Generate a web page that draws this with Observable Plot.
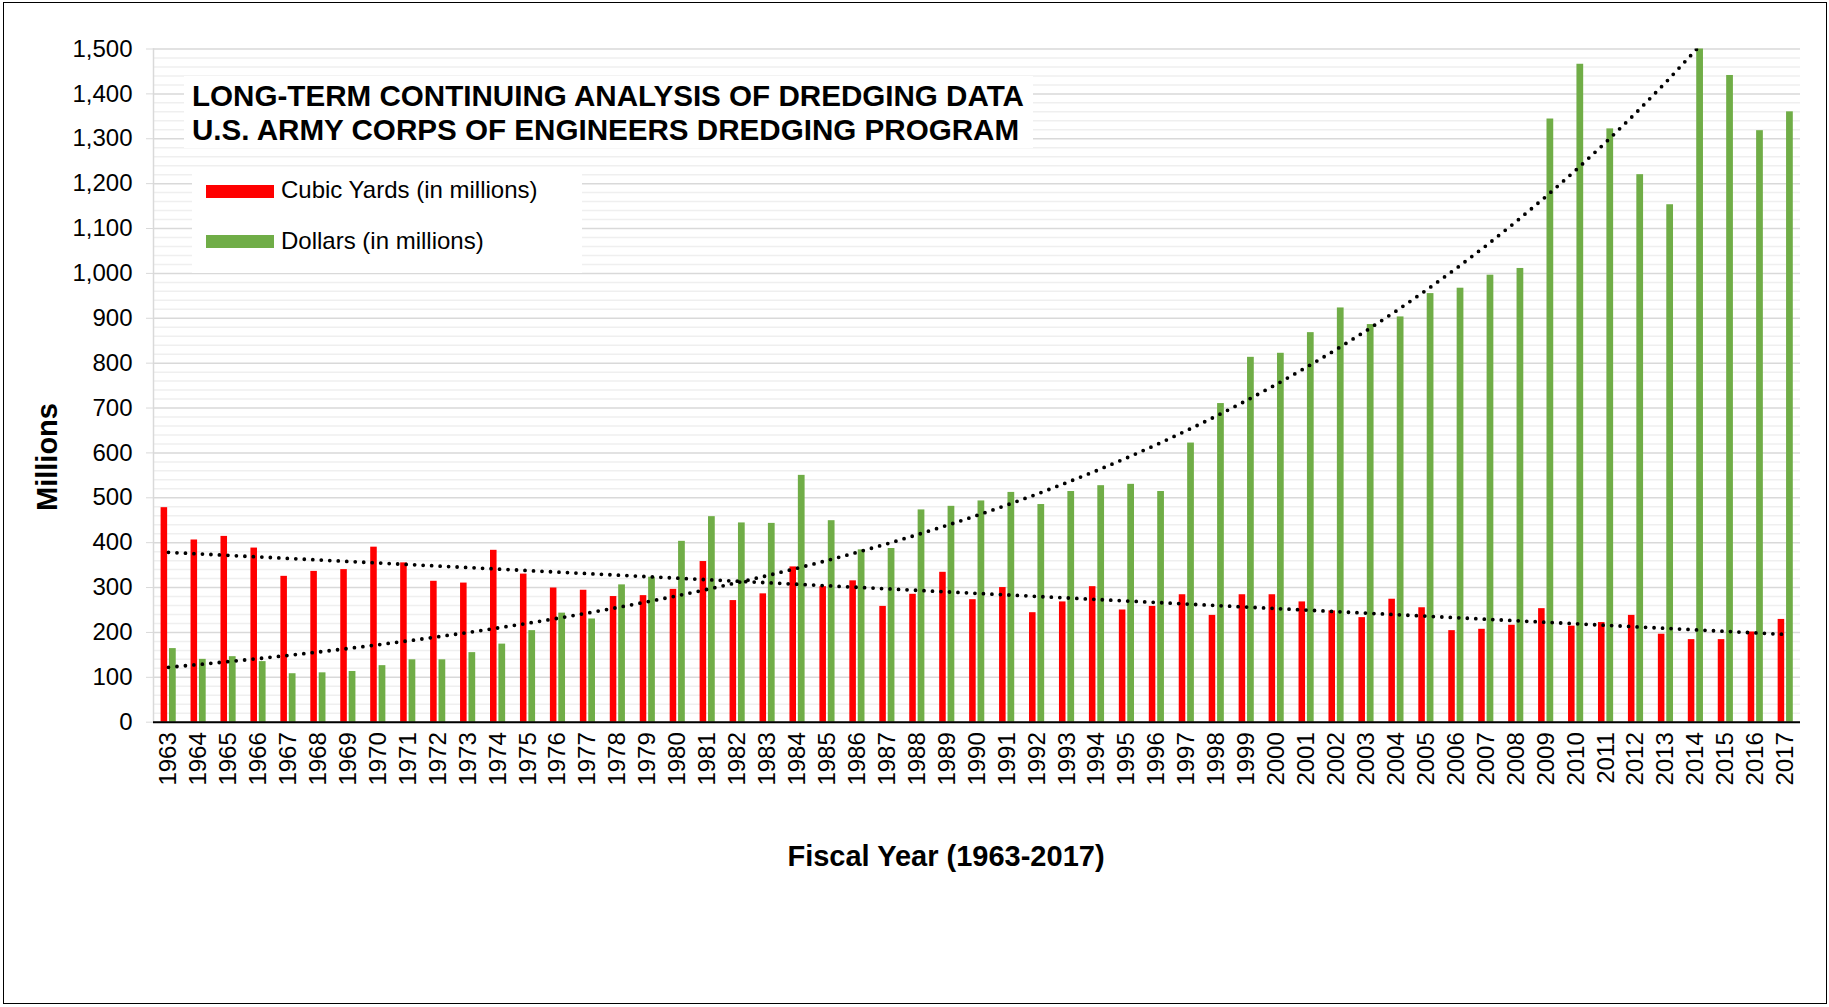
<!DOCTYPE html>
<html>
<head>
<meta charset="utf-8">
<script src="https://cdn.jsdelivr.net/npm/d3@7"></script>
<script src="https://cdn.jsdelivr.net/npm/@observablehq/plot@0.6"></script>
<style>
  html, body { margin: 0; padding: 0; background: #fff; overflow: hidden; }
  body { width: 1829px; height: 1007px; position: relative; font-family: Arial, "Liberation Sans", sans-serif; color: #000; }
  #chart { position: absolute; left: 0; top: 0; }
  #border { position: absolute; left: 3px; top: 2px; width: 1824px; height: 1002px; box-sizing: border-box; border: 1.5px solid #000; pointer-events: none; }
  #titlebox { position: absolute; left: 184px; top: 76px; width: 849px; height: 72px; background: #fff; box-sizing: border-box; padding: 3px 0 0 8px; font-weight: bold; font-size: 29.6px; line-height: 34px; white-space: nowrap; }
  #legend { position: absolute; left: 192px; top: 173px; width: 390px; height: 100px; background: #fff; }
  .sw { position: absolute; left: 14px; width: 68px; height: 12.5px; }
  .lt { position: absolute; left: 89px; font-size: 24px; line-height: 24px; white-space: nowrap; }
  #ytitle { position: absolute; left: 47px; top: 457px; font-weight: bold; font-size: 29px; line-height: 29px; white-space: nowrap; transform: translate(-50%, -50%) rotate(-90deg); }
  #xtitle { position: absolute; left: 946px; top: 841.5px; font-weight: bold; font-size: 29px; line-height: 29px; white-space: nowrap; transform: translateX(-50%); }
</style>
</head>
<body>
<div id="chart"></div>
<div id="titlebox">LONG-TERM CONTINUING ANALYSIS OF DREDGING DATA<br>U.S. ARMY CORPS OF ENGINEERS DREDGING PROGRAM</div>
<div id="legend"></div>
<div id="ytitle">Millions</div>
<div id="xtitle">Fiscal Year (1963-2017)</div>
<div id="border"></div>
<script>
// ---- Data ----
const years = [
  "1963","1964","1965","1966","1967","1968","1969","1970","1971","1972",
  "1973","1974","1975","1976","1977","1978","1979","1980","1981","1982",
  "1983","1984","1985","1986","1987","1988","1989","1990","1991","1992",
  "1993","1994","1995","1996","1997","1998","1999","2000","2001","2002",
  "2003","2004","2005","2006","2007","2008","2009","2010","2011","2012",
  "2013","2014","2015","2016","2017"
];
const cubicYards = [
  478, 406, 414, 388, 325, 336, 340, 390, 355, 314,
  310, 383, 330, 299, 294, 280, 282, 296, 358, 271,
  286, 346, 302, 315, 258, 285, 334, 273, 300, 244,
  268, 302, 250, 258, 284, 238, 284, 284, 268, 248,
  233, 274, 255, 204, 207, 216, 253, 214, 222, 238,
  196, 184, 184, 201, 229
];
const dollars = [
  164, 140, 146, 135, 108, 110, 113, 126, 139, 139,
  155, 174, 204, 243, 230, 306, 323, 403, 458, 444,
  443, 550, 449, 384, 387, 473, 481, 493, 512, 485,
  514, 527, 530, 514, 622, 710, 813, 822, 868, 923,
  886, 903, 955, 967, 996, 1011, 1344, 1466, 1322, 1220,
  1153, 1500, 1441, 1318, 1360
];
const seriesNames = ["Cubic Yards (in millions)", "Dollars (in millions)"];
const seriesColors = ["#FF0000", "#70AD47"];
const yTickValues = [0, 100, 200, 300, 400, 500, 600, 700, 800, 900, 1000, 1100, 1200, 1300, 1400, 1500];

// ---- Derived tables ----
const table = years.map((y, i) => ({year: y, cy: cubicYards[i], usd: dollars[i]}));

// Trendlines fitted from the data (as a spreadsheet does): linear for cubic yards, exponential for dollars
const xs = years.map(Number);
function linFit(xv, yv) {
  const n = xv.length, mx = d3.mean(xv), my = d3.mean(yv);
  let sxy = 0, sxx = 0;
  for (let i = 0; i < n; i++) { sxy += (xv[i] - mx) * (yv[i] - my); sxx += (xv[i] - mx) ** 2; }
  const b = sxy / sxx; return {a: my - b * mx, b};
}
const lin = linFit(xs, cubicYards);
const ex = linFit(xs, dollars.map(Math.log));
const trendCY = years.map((y, i) => ({year: y, v: lin.a + lin.b * xs[i]}));
const trendUSD = years.map((y, i) => ({year: y, v: Math.exp(ex.a + ex.b * xs[i])}));

const minorTicks = d3.range(0, 1501, 20).filter(v => v % 100 !== 0);

const W = 1829, H = 1007;
const mL = 153, mR = 29, mT = 48.5, mB = 285.3;

const dotted = {stroke: "#000", strokeWidth: 3.8, strokeDasharray: "0 8.5", strokeLinecap: "round", clip: true};

const plot = Plot.plot({
  width: W, height: H,
  marginLeft: mL, marginRight: mR, marginTop: mT, marginBottom: mB,
  style: {fontFamily: 'Arial, "Liberation Sans", sans-serif', fontSize: "24px", color: "#000", background: "transparent", overflow: "visible"},
  x: {type: "band", domain: years, padding: 0, label: null},
  y: {domain: [0, 1500], nice: false, label: null},
  marks: [
    Plot.ruleY(minorTicks, {stroke: "#efefef", strokeWidth: 1.5}),
    Plot.ruleY(yTickValues, {stroke: "#d9d9d9", strokeWidth: 1.5}),
    Plot.frame({anchor: "left", stroke: "#d9d9d9", strokeWidth: 1.5}),
    Plot.axisY({ticks: yTickValues, tickFormat: d3.format(","), tickSize: 7, tickPadding: 14, stroke: "#d9d9d9", fill: "#000", fontSize: 24, label: null}),
    Plot.axisX({tickRotate: -90, tickSize: 0, tickPadding: 10, fontSize: 24, fill: "#000", label: null}),
    Plot.barY(table, {x: "year", y: "cy", fill: seriesColors[0], insetLeft: 7.6, insetRight: 15.8}),
    Plot.barY(table, {x: "year", y: "usd", fill: seriesColors[1], insetLeft: 16.0, insetRight: 7.2}),
    Plot.ruleY([0], {stroke: "#000", strokeWidth: 2}),
    Plot.line(trendCY, {x: "year", y: "v", ...dotted}),
    Plot.line(trendUSD, {x: "year", y: "v", ...dotted})
  ]
});
document.getElementById("chart").appendChild(plot);

// ---- Legend (HTML, placed over the plot area like the original) ----
const legend = document.getElementById("legend");
const swTops = [12, 62], txtTops = [5, 55.7];
seriesNames.forEach((name, i) => {
  const sw = document.createElement("div");
  sw.className = "sw"; sw.style.top = swTops[i] + "px"; sw.style.background = seriesColors[i];
  const t = document.createElement("div");
  t.className = "lt"; t.style.top = txtTops[i] + "px"; t.textContent = name;
  legend.appendChild(sw); legend.appendChild(t);
});
</script>
</body>
</html>
